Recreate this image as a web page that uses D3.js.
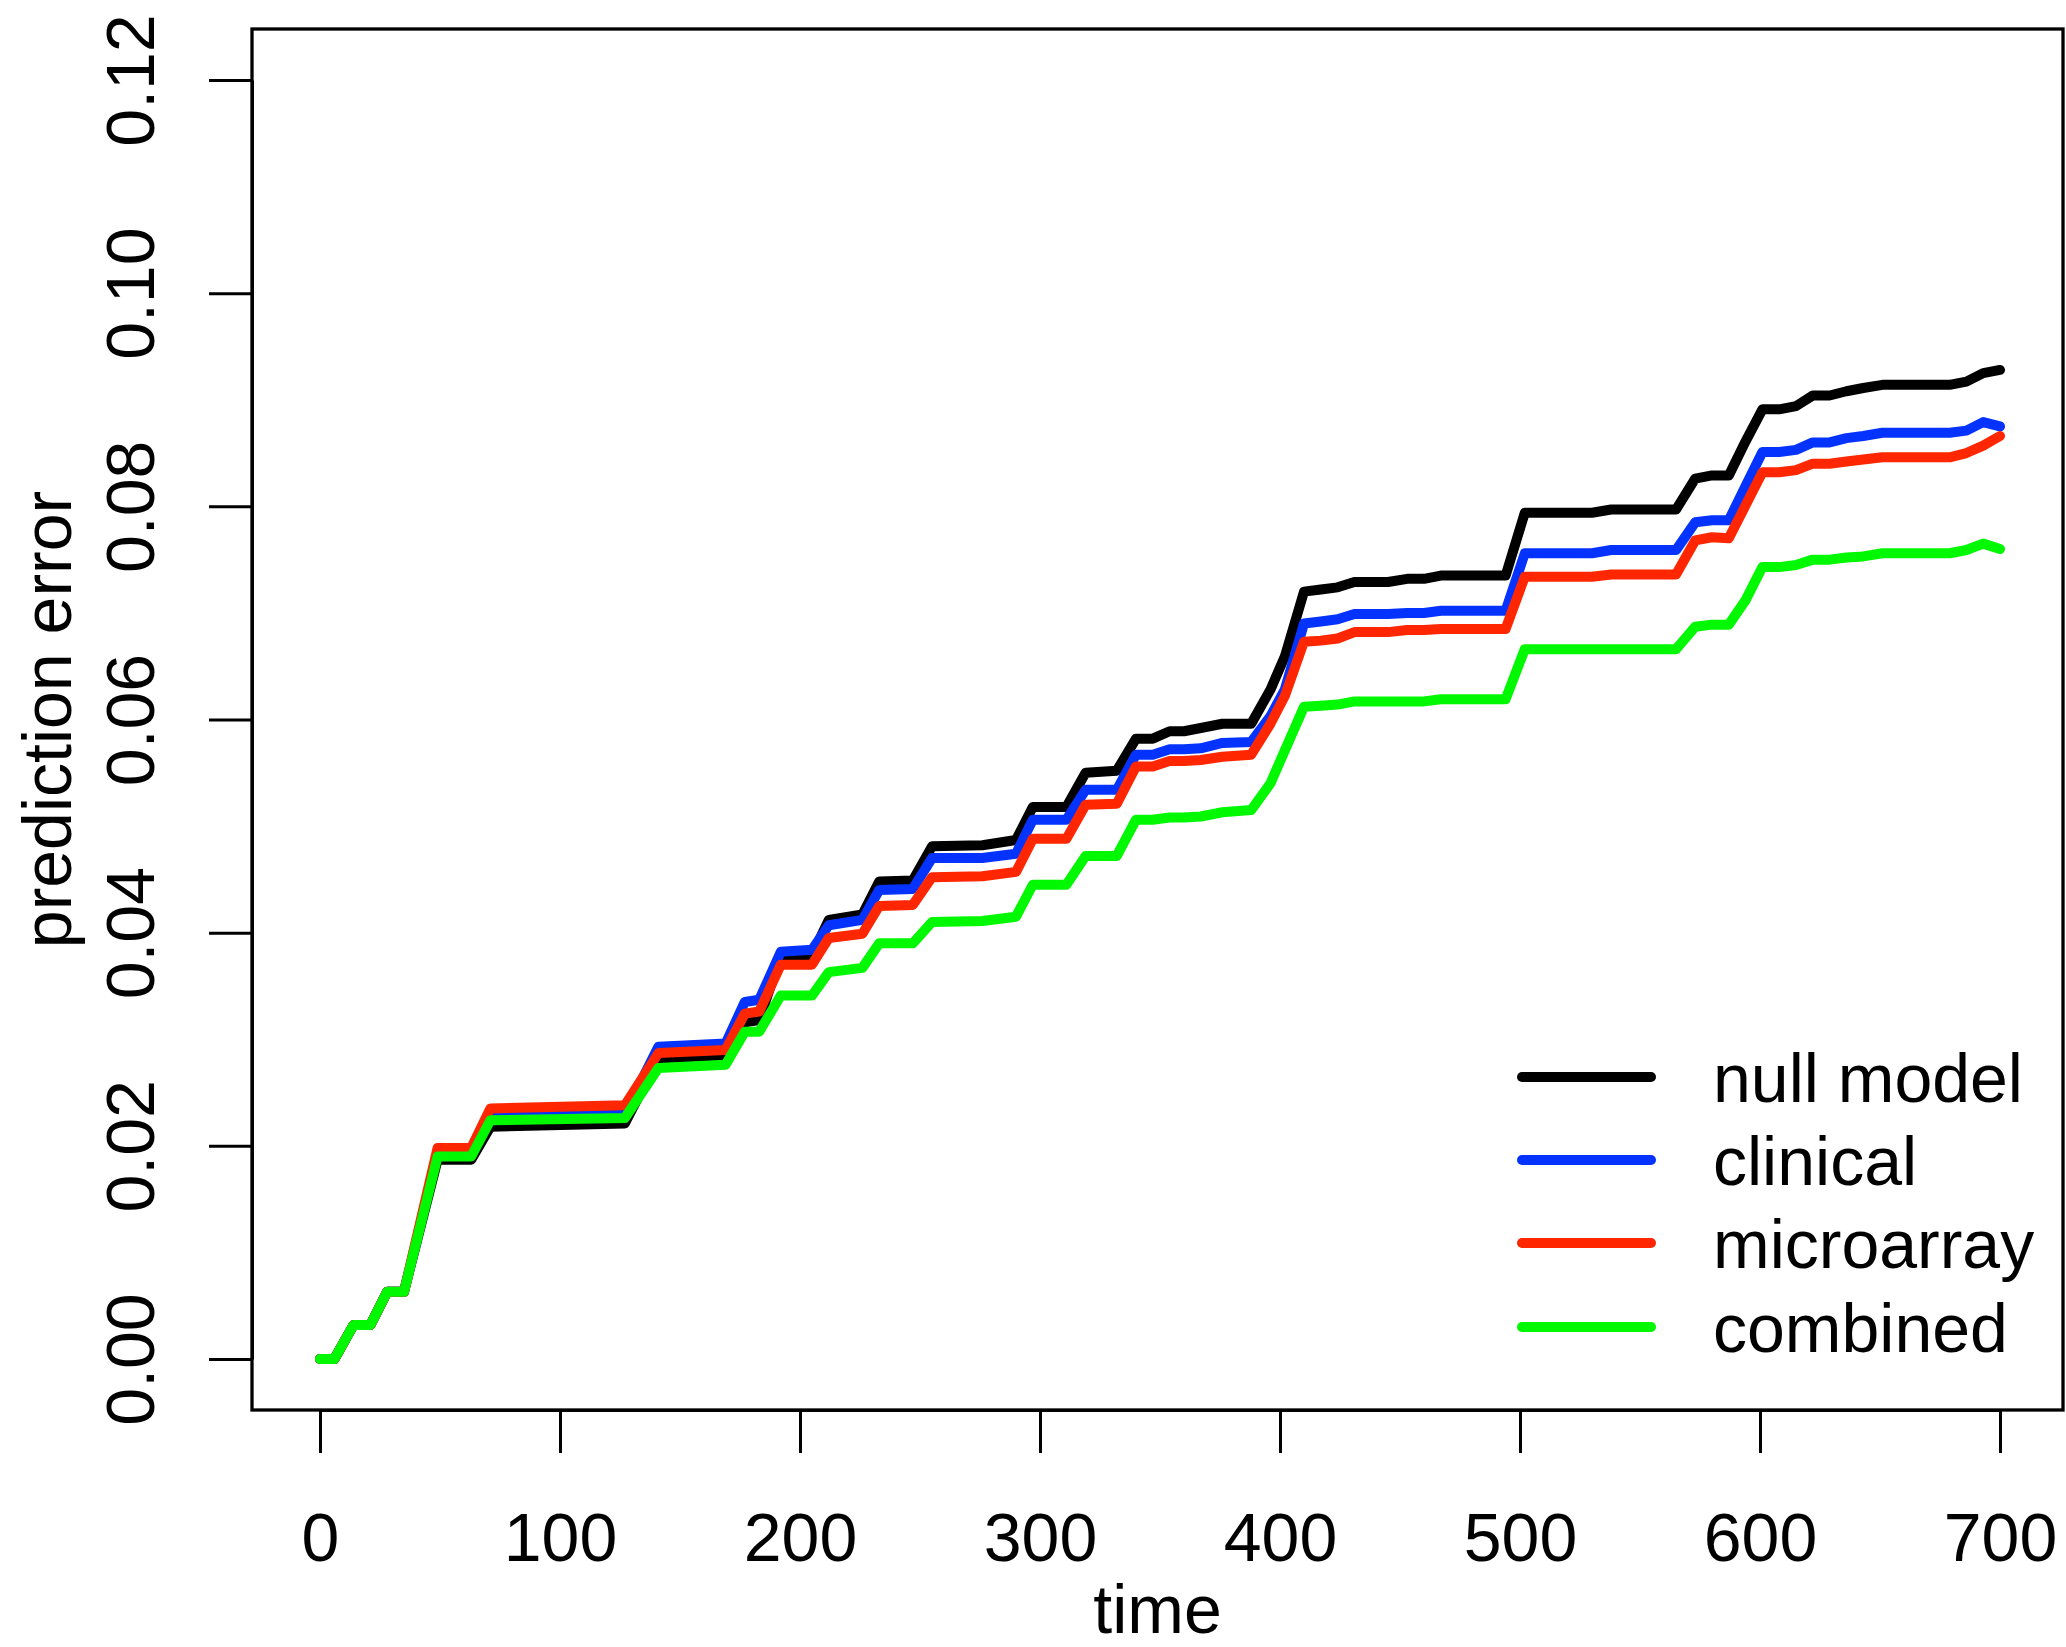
<!DOCTYPE html>
<html>
<head>
<meta charset="utf-8">
<script src="https://cdn.jsdelivr.net/npm/d3@7"></script>
<style>
  html, body { margin: 0; padding: 0; background: #fff; }
  svg text { font-family: "Liberation Sans", Arial, Helvetica, sans-serif; fill: #000; }
</style>
</head>
<body>
<svg id="chart" width="2066" height="1647"></svg>
<script>
// ---- data ----
const times = [0, 6, 14, 21, 28, 35, 49, 63, 71, 127, 141, 169, 177, 183, 192, 205, 212, 226, 233, 247,
  255, 276, 290, 297, 311, 319, 332, 340, 347, 354, 360, 367, 376, 388, 396, 402, 410, 417, 424, 431,
  445, 453, 460, 467, 494, 502, 530, 538, 565, 573, 580, 587, 594, 601, 608, 615, 622, 629, 636, 643,
  651, 679, 686, 693, 700];

const nullModel = [0, 0, 0.0032, 0.0032, 0.0063, 0.0063, 0.0187, 0.0187, 0.0218, 0.0221, 0.0282, 0.0285, 0.0316, 0.0318, 0.0378, 0.0379, 0.0412, 0.0417, 0.0448, 0.0449,
  0.0481, 0.0482, 0.0487, 0.0518, 0.0518, 0.0550, 0.0552, 0.0582, 0.0582, 0.0589, 0.0589, 0.0592, 0.0596, 0.0596, 0.0628, 0.0659, 0.0720, 0.0722, 0.0724, 0.0729,
  0.0729, 0.0732, 0.0732, 0.0735, 0.0735, 0.0794, 0.0794, 0.0797, 0.0797, 0.0826, 0.0829, 0.0829, 0.0861, 0.0891, 0.0891, 0.0894, 0.0904, 0.0904, 0.0908, 0.0911,
  0.0914, 0.0914, 0.0917, 0.0925, 0.0928];

const clinical = [0, 0, 0.0032, 0.0032, 0.0063, 0.0063, 0.0193, 0.0193, 0.0229, 0.0230, 0.0293, 0.0296, 0.0335, 0.0337, 0.0382, 0.0384, 0.0407, 0.0412, 0.0440, 0.0441,
  0.0470, 0.0470, 0.0474, 0.0506, 0.0506, 0.0534, 0.0534, 0.0567, 0.0567, 0.0572, 0.0572, 0.0573, 0.0578, 0.0579, 0.0603, 0.0628, 0.0690, 0.0692, 0.0694, 0.0699,
  0.0699, 0.0700, 0.0700, 0.0702, 0.0702, 0.0756, 0.0756, 0.0759, 0.0759, 0.0785, 0.0787, 0.0787, 0.0819, 0.0851, 0.0851, 0.0853, 0.0860, 0.0860, 0.0864, 0.0866,
  0.0869, 0.0869, 0.0871, 0.0879, 0.0875];

const microarray = [0, 0, 0.0032, 0.0032, 0.0063, 0.0063, 0.0198, 0.0198, 0.0235, 0.0238, 0.0287, 0.0290, 0.0324, 0.0326, 0.0370, 0.0370, 0.0395, 0.0399, 0.0425, 0.0426,
  0.0452, 0.0453, 0.0457, 0.0488, 0.0488, 0.0520, 0.0521, 0.0556, 0.0556, 0.0561, 0.0561, 0.0562, 0.0565, 0.0567, 0.0596, 0.0622, 0.0673, 0.0674, 0.0676, 0.0682,
  0.0682, 0.0684, 0.0684, 0.0685, 0.0685, 0.0734, 0.0734, 0.0736, 0.0736, 0.0768, 0.0771, 0.0770, 0.0801, 0.0832, 0.0832, 0.0834, 0.0840, 0.0840, 0.0842, 0.0844,
  0.0846, 0.0846, 0.0850, 0.0857, 0.0866];

const combined = [0, 0, 0.0032, 0.0032, 0.0063, 0.0063, 0.0190, 0.0190, 0.0224, 0.0226, 0.0273, 0.0276, 0.0307, 0.0307, 0.0341, 0.0341, 0.0363, 0.0367, 0.0390, 0.0390,
  0.0410, 0.0411, 0.0415, 0.0445, 0.0445, 0.0472, 0.0472, 0.0506, 0.0506, 0.0508, 0.0508, 0.0509, 0.0513, 0.0515, 0.0540, 0.0571, 0.0612, 0.0613, 0.0614, 0.0617,
  0.0617, 0.0617, 0.0617, 0.0619, 0.0619, 0.0666, 0.0666, 0.0666, 0.0666, 0.0687, 0.0689, 0.0689, 0.0712, 0.0743, 0.0743, 0.0745, 0.0750, 0.0750, 0.0752, 0.0753,
  0.0756, 0.0756, 0.0759, 0.0765, 0.0760];

const seriesNames = ["null model", "clinical", "microarray", "combined"];
const seriesColors = ["#000000", "#0433FF", "#FF2600", "#00F900"];
const xTicks = [0, 100, 200, 300, 400, 500, 600, 700];
const yTicks = [0, 0.02, 0.04, 0.06, 0.08, 0.10, 0.12];
const xLabel = "time";
const yLabel = "prediction error";

// ---- layout ----
const box = { left: 252, right: 2063, top: 29, bottom: 1410 };
const svg = d3.select("#chart");
const FONT = 68;

const x = d3.scaleLinear().domain([0, 700]).range([320, 2000]);
const y = d3.scaleLinear().domain([0, 0.12]).range([1359, 80]);

// plot box
svg.append("rect")
  .attr("x", box.left).attr("y", box.top)
  .attr("width", box.right - box.left).attr("height", box.bottom - box.top)
  .attr("fill", "none").attr("stroke", "#000").attr("stroke-width", 3.3);

// series lines
const allSeries = [nullModel, clinical, microarray, combined];
const line = d3.line().x((d, i) => x(times[i])).y(d => y(d));
allSeries.forEach((vals, k) => {
  svg.append("path")
    .datum(vals)
    .attr("d", line)
    .attr("fill", "none")
    .attr("stroke", seriesColors[k])
    .attr("stroke-width", 10)
    .attr("stroke-linecap", "round")
    .attr("stroke-linejoin", "round");
});

// x axis
const gx = svg.append("g")
  .attr("transform", `translate(0,${box.bottom})`)
  .call(d3.axisBottom(x).tickValues(xTicks).tickFormat(d3.format("d")).tickSize(43).tickSizeOuter(0));
gx.select(".domain").attr("stroke-width", 3);
gx.selectAll(".tick line").attr("stroke-width", 3);
gx.selectAll(".tick text")
  .attr("y", 151).attr("dy", 0)
  .style("font-size", FONT + "px")
  .style("font-family", '"Liberation Sans", Arial, sans-serif')
  .attr("fill", "#000");

// y axis
const gy = svg.append("g")
  .attr("transform", `translate(${box.left},0)`)
  .call(d3.axisLeft(y).tickValues(yTicks).tickFormat(d3.format(".2f")).tickSize(43).tickSizeOuter(0));
gy.select(".domain").attr("stroke-width", 3);
gy.selectAll(".tick line").attr("stroke-width", 3);
gy.selectAll(".tick text")
  .attr("x", null).attr("dy", 0)
  .attr("transform", `translate(${154 - box.left},0) rotate(-90)`)
  .attr("text-anchor", "middle")
  .style("font-size", FONT + "px")
  .style("font-family", '"Liberation Sans", Arial, sans-serif')
  .attr("fill", "#000");

// axis titles
svg.append("text")
  .attr("x", (box.left + box.right) / 2).attr("y", 1633)
  .attr("text-anchor", "middle")
  .style("font-size", FONT + "px")
  .text(xLabel);

svg.append("text")
  .attr("transform", `translate(71,${(box.top + box.bottom) / 2}) rotate(-90)`)
  .attr("text-anchor", "middle")
  .style("font-size", FONT + "px")
  .text(yLabel);

// legend
const legendY = [1077, 1160, 1243, 1327];
seriesNames.forEach((name, k) => {
  svg.append("line")
    .attr("x1", 1522).attr("x2", 1651)
    .attr("y1", legendY[k]).attr("y2", legendY[k])
    .attr("stroke", seriesColors[k])
    .attr("stroke-width", 10)
    .attr("stroke-linecap", "round");
  svg.append("text")
    .attr("x", 1713).attr("y", legendY[k] + 25)
    .style("font-size", FONT + "px")
    .text(name);
});
</script>
</body>
</html>
